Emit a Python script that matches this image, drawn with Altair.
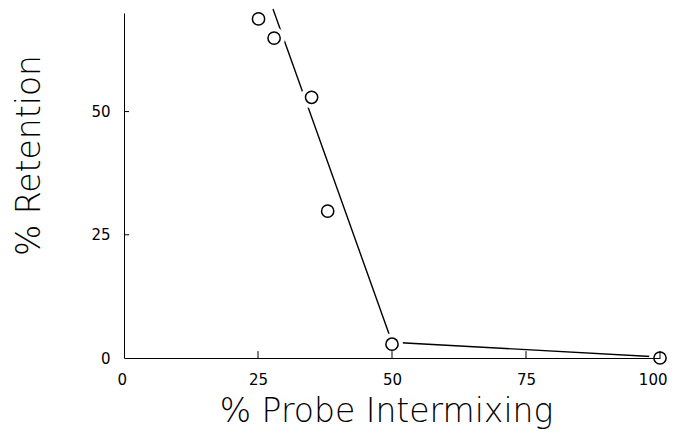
import altair as alt
import pandas as pd

# Observed data points
point_x = [25.1, 28.0, 35.0, 38.0, 50.0, 100.0]
point_y = [68.8, 64.9, 52.9, 29.8, 2.8, 0.0]

# Fitted line
line_x = [27.8, 50.0, 100.0]
line_y = [70.8, 3.2, 0.2]

# Axis ticks / labels
x_ticks = [0, 25, 50, 75, 100]
y_ticks = [0, 25, 50]
x_inner_ticks = [25, 50, 75, 100]
y_inner_ticks = [25, 50]

pts = pd.DataFrame({"x": point_x, "y": point_y})
ln = pd.DataFrame({"x": line_x, "y": line_y})
xt = pd.DataFrame({"x": x_inner_ticks, "y0": [0] * len(x_inner_ticks), "y1": [1.4] * len(x_inner_ticks)})
yt = pd.DataFrame({"y": y_inner_ticks, "x0": [0] * len(y_inner_ticks), "x1": [0.95] * len(y_inner_ticks)})

xscale = alt.Scale(domain=[0, 100], nice=False, zero=False)
yscale = alt.Scale(domain=[0, 70], nice=False, zero=False)

LABEL_FONT = "DejaVu Sans"
TITLE_FONT = "DejaVu Sans"

xaxis = alt.Axis(
    values=x_ticks, tickSize=0, grid=False, labelPadding=14, labelFlush=True, labelFlushOffset=7,
    labelFont=LABEL_FONT, labelFontSize=15, labelColor="black", labelFontWeight="normal",
    title="% Probe Intermixing", titleFont=TITLE_FONT, titleFontSize=33, titleFontWeight=200,
    titleColor="black", titleX=262, titleY=63, titleAlign="center", titleBaseline="alphabetic",
    domainColor="black", domainWidth=1, zindex=1,
)
yaxis = alt.Axis(
    values=y_ticks, tickSize=0, grid=False, labelPadding=14, labelFlush=False,
    labelFont=LABEL_FONT, labelFontSize=15, labelColor="black",
    title="% Retention", titleFont=TITLE_FONT, titleFontSize=33, titleFontWeight=200,
    titleColor="black", titleAngle=270, titleX=-85, titleY=142, titleAlign="center",
    titleBaseline="alphabetic", domainColor="black", domainWidth=1, zindex=1,
)

line = alt.Chart(ln).mark_line(color="black", strokeWidth=1.4).encode(
    x=alt.X("x:Q", scale=xscale, axis=xaxis),
    y=alt.Y("y:Q", scale=yscale, axis=yaxis),
)

halo = alt.Chart(pts).mark_circle(color="white", opacity=1, size=480).encode(
    x=alt.X("x:Q", scale=xscale),
    y=alt.Y("y:Q", scale=yscale),
)

circles = alt.Chart(pts).mark_point(
    shape="circle", filled=False, color="black", strokeWidth=1.5, size=150, opacity=1
).encode(
    x=alt.X("x:Q", scale=xscale),
    y=alt.Y("y:Q", scale=yscale),
)

xtick_rules = alt.Chart(xt).mark_rule(color="black", strokeWidth=1).encode(
    x=alt.X("x:Q", scale=xscale),
    y=alt.Y("y0:Q", scale=yscale),
    y2="y1:Q",
)

ytick_rules = alt.Chart(yt).mark_rule(color="black", strokeWidth=1).encode(
    y=alt.Y("y:Q", scale=yscale),
    x=alt.X("x0:Q", scale=xscale),
    x2="x1:Q",
)

chart = alt.layer(line, halo, circles, xtick_rules, ytick_rules).properties(
    width=536,
    height=345,
    background="white",
    autosize=alt.AutoSizeParams(type="none"),
    padding={"left": 116, "top": 5, "right": 12, "bottom": 72},
).configure_view(strokeWidth=0, stroke="transparent")

chart.save("out.html", embed_options={"renderer": "svg", "actions": False})
